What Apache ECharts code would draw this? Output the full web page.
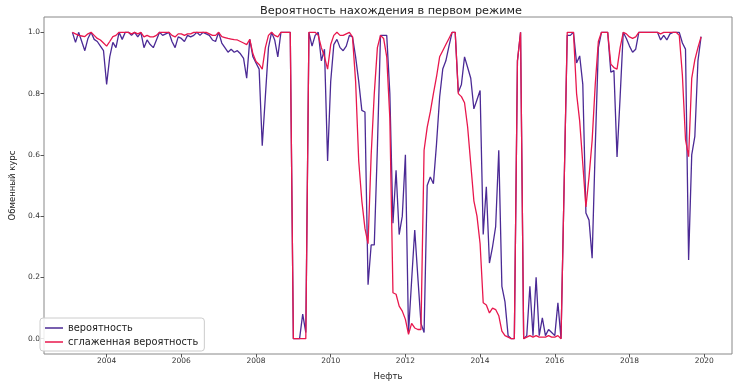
<!DOCTYPE html>
<html>
<head>
<meta charset="utf-8">
<script src="https://cdn.jsdelivr.net/npm/echarts@6/dist/echarts.min.js"></script>
<style>
  html, body { margin: 0; padding: 0; background: #fff; }
  #chart { width: 752px; height: 386px; }
</style>
</head>
<body>
<div id="chart"></div>
<script>
// monthly series, first point Feb 2003
const startYear = 2003;
const startMonth = 2;

// вероятность (filtered), one row per year
const prob = [
  1.0, 0.967, 1.0, 0.97, 0.94, 0.98, 1.0, 0.977, 0.97, 0.955, 0.94,
  0.83, 0.92, 0.967, 0.95, 1.0, 0.977, 1.0, 1.0, 0.99, 1.0, 0.985, 1.0,
  0.95, 0.975, 0.96, 0.95, 0.975, 1.0, 0.99, 0.995, 1.0, 0.97, 0.95, 0.985,
  0.98, 0.97, 0.99, 0.985, 0.99, 1.0, 0.99, 1.0, 0.995, 0.99, 0.975, 0.97,
  1.0, 0.965, 0.95, 0.935, 0.945, 0.935, 0.94, 0.93, 0.915, 0.85, 0.977, 0.92,
  0.90, 0.88, 0.63, 0.79, 0.95, 1.0, 0.975, 0.92, 1.0, 1.0, 1.0, 1.0,
  0.0, 0.0, 0.0, 0.08, 0.02, 1.0, 0.955, 0.99, 1.0, 0.907, 0.945, 0.58,
  0.84, 0.96, 0.977, 0.95, 0.94, 0.955, 0.99, 0.985, 0.92, 0.84, 0.745, 0.74,
  0.176, 0.306, 0.306, 0.625, 0.99, 0.99, 0.99, 0.80, 0.377, 0.55, 0.34, 0.40,
  0.60, 0.02, 0.19, 0.355, 0.20, 0.05, 0.02, 0.50, 0.528, 0.506, 0.636, 0.788,
  0.88, 0.907, 0.955, 1.0, 1.0, 0.804, 0.83, 0.92, 0.885, 0.85, 0.75, 0.78,
  0.81, 0.34, 0.496, 0.247, 0.30, 0.366, 0.615, 0.171, 0.12, 0.01, 0.0, 0.0,
  0.907, 1.0, 0.0, 0.01, 0.171, 0.01, 0.20, 0.01, 0.068, 0.01, 0.03, 0.02,
  0.01, 0.117, 0.0, 0.5, 0.99, 0.99, 1.0, 0.90, 0.923, 0.83, 0.41, 0.387,
  0.263, 0.625, 0.95, 1.0, 1.0, 1.0, 0.87, 0.875, 0.593, 0.79, 1.0, 0.98,
  0.955, 0.935, 0.945, 1.0, 1.0, 1.0, 1.0, 1.0, 1.0, 1.0, 0.975, 0.99,
  0.975, 0.995, 1.0, 1.0, 1.0, 0.965, 0.945, 0.257, 0.60, 0.66, 0.907, 0.986
];

// сглаженная вероятность
const smooth = [
  1.0, 0.995, 0.99, 0.988, 0.986, 0.995, 1.0, 0.99, 0.98, 0.975, 0.965,
  0.955, 0.97, 0.986, 0.99, 1.0, 1.0, 1.0, 1.0, 0.995, 1.0, 0.995, 1.0,
  0.985, 0.99, 0.985, 0.985, 0.99, 1.0, 1.0, 1.0, 1.0, 0.99, 0.985, 0.995,
  0.995, 0.99, 0.995, 0.995, 1.0, 1.0, 1.0, 1.0, 1.0, 0.995, 0.99, 0.99,
  1.0, 0.986, 0.983, 0.98, 0.978, 0.976, 0.975, 0.97, 0.965, 0.96, 0.977, 0.93,
  0.905, 0.895, 0.88, 0.95, 0.99, 1.0, 0.99, 0.985, 1.0, 1.0, 1.0, 1.0,
  0.0, 0.0, 0.0, 0.0, 0.0, 1.0, 1.0, 1.0, 0.99, 0.95, 0.92, 0.88,
  0.96, 0.99, 1.0, 0.99, 0.99, 0.995, 1.0, 0.985, 0.84, 0.58, 0.45, 0.36,
  0.31, 0.6, 0.8, 0.95, 0.99, 0.98, 0.92, 0.72, 0.15, 0.145, 0.106, 0.09,
  0.063, 0.014, 0.05, 0.035, 0.03, 0.03, 0.615, 0.69, 0.74, 0.80, 0.855, 0.92,
  0.94, 0.96, 0.98, 1.0, 1.0, 0.80, 0.79, 0.77, 0.69, 0.57, 0.45, 0.40,
  0.31, 0.117, 0.11, 0.084, 0.10, 0.095, 0.075, 0.025, 0.01, 0.005, 0.0, 0.0,
  0.907, 1.0, 0.0, 0.005, 0.01, 0.005, 0.01, 0.005, 0.005, 0.005, 0.01, 0.005,
  0.005, 0.01, 0.0, 0.5, 1.0, 1.0, 1.0, 0.80, 0.71, 0.57, 0.43, 0.528,
  0.647, 0.83, 0.97, 1.0, 1.0, 1.0, 0.896, 0.885, 0.88, 0.95, 1.0, 0.995,
  0.985, 0.98, 0.985, 1.0, 1.0, 1.0, 1.0, 1.0, 1.0, 1.0, 0.995, 1.0,
  1.0, 1.0, 1.0, 1.0, 0.99, 0.86, 0.65, 0.594, 0.85, 0.91, 0.95, 0.985
];

const yearTicks = [2004, 2006, 2008, 2010, 2012, 2014, 2016, 2018, 2020];
const probTicks = [0.0, 0.2, 0.4, 0.6, 0.8, 1.0];

// decimal-year position of each month
const months = prob.map((_, i) => startYear + (startMonth - 1 + i) / 12);

const font = 'DejaVu Sans';
const chart = echarts.init(document.getElementById('chart'));

chart.setOption({
  animation: false,
  backgroundColor: '#fff',
  textStyle: { fontFamily: font },
  title: {
    text: 'Вероятность нахождения в первом режиме',
    left: 386,
    top: 1,
    textAlign: 'center',
    textStyle: { fontFamily: font, fontSize: 11.3, fontWeight: 'normal', color: '#222' }
  },
  grid: {
    left: 40, right: 20, top: 17, bottom: 30,
    show: true, borderColor: '#888', borderWidth: 1
  },
  legend: {
    orient: 'vertical',
    left: 40, top: 318,
    icon: 'rect',
    itemWidth: 18, itemHeight: 1.5,
    itemGap: 4,
    padding: [5, 6, 4, 5],
    borderColor: '#ccc', borderWidth: 1, borderRadius: 3,
    backgroundColor: 'rgba(255,255,255,0.85)',
    textStyle: { fontFamily: font, fontSize: 9.8, color: '#222' },
    data: ['вероятность', 'сглаженная вероятность']
  },
  xAxis: {
    type: 'value',
    min: 2002.323, max: 2020.745,
    name: 'Нефть',
    nameLocation: 'middle',
    nameGap: 18,
    nameTextStyle: { fontFamily: font, fontSize: 8.5, color: '#222' },
    axisLine: { show: false, onZero: false },
    splitLine: { show: false },
    axisTick: { show: true, length: 3.5, customValues: yearTicks, lineStyle: { color: '#555' } },
    axisLabel: {
      customValues: yearTicks, margin: 3.5,
      fontSize: 7.5, color: '#333',
      formatter: (v) => String(v)
    }
  },
  yAxis: {
    type: 'value',
    min: -0.05, max: 1.05,
    name: 'Обменный курс',
    nameLocation: 'middle',
    nameRotate: 90,
    nameGap: 27,
    nameTextStyle: { fontFamily: font, fontSize: 8.5, color: '#222' },
    axisLine: { show: false, onZero: false },
    splitLine: { show: false },
    axisTick: { show: true, length: 3.5, customValues: probTicks, lineStyle: { color: '#555' } },
    axisLabel: {
      customValues: probTicks, margin: 4,
      fontSize: 7.5, color: '#333',
      formatter: (v) => v.toFixed(1)
    }
  },
  series: [
    {
      name: 'вероятность',
      type: 'line',
      data: months.map((x, i) => [x, prob[i]]),
      showSymbol: false,
      color: '#4b2a95',
      lineStyle: { width: 1.3, color: '#4b2a95' }
    },
    {
      name: 'сглаженная вероятность',
      type: 'line',
      data: months.map((x, i) => [x, smooth[i]]),
      showSymbol: false,
      color: '#e8174d',
      lineStyle: { width: 1.3, color: '#e8174d' }
    }
  ]
});
</script>
</body>
</html>
